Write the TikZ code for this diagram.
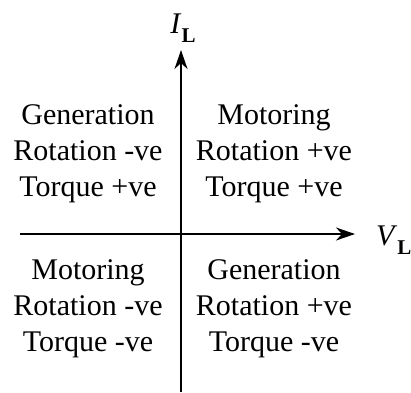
\documentclass[tikz,border=0pt]{standalone}
\usepackage{fontspec}
\setmainfont{Liberation Serif}
\usetikzlibrary{arrows.meta}
\newcommand{\axlab}[1]{\textit{#1}\raisebox{-9pt}{\fontsize{21}{21}\selectfont\textbf{L}}}
\tikzset{
  axe/.style={line width=2pt,-{Stealth[length=19pt,width=13pt,inset=6pt]}},
  quad/.style={align=center,inner sep=0pt,font=\fontsize{30}{36}\selectfont},
  lab/.style={inner sep=0pt,font=\fontsize{30}{36}\selectfont}
}
\begin{document}
\begin{tikzpicture}[x=1pt,y=-1pt]
      \useasboundingbox (0,0) rectangle (411,392);
      % axes
      \coordinate (ybas) at (181,392);
      \coordinate (yhaut) at (181,50);
      \coordinate (xgauche) at (20,234);
      \coordinate (xdroite) at (355,234);
      \draw[axe](ybas)--(yhaut);
      \draw[axe](xgauche)--(xdroite);
      \node[lab,anchor=base] (IL) at (183,33) {\axlab{I}};
      \node[lab,anchor=base west] (VL) at (376,245) {\axlab{V}};
      % quadrants
      \node[quad] (q2) at (88,154) {Generation\\Rotation -ve\\Torque +ve};
      \node[quad] (q1) at (274,154) {Motoring\\Rotation +ve\\Torque +ve};
      \node[quad] (q3) at (88,309) {Motoring\\Rotation -ve\\Torque -ve};
      \node[quad] (q4) at (274,309) {Generation\\Rotation +ve\\Torque -ve};
    \end{tikzpicture}
\end{document}
